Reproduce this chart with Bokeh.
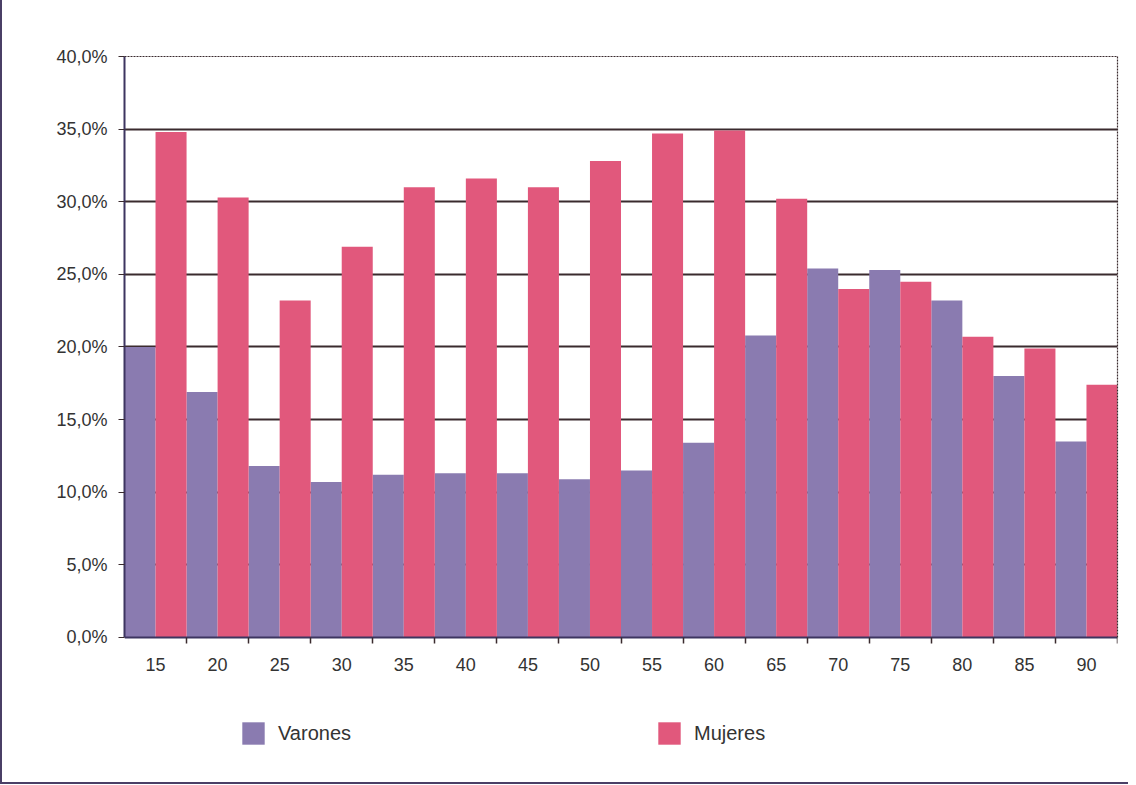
from bokeh.plotting import figure
from bokeh.models import ColumnDataSource, FixedTicker, Legend, LegendItem, Range1d, LinearAxis
from bokeh.embed import file_html
from bokeh.resources import INLINE

edades = ["15", "20", "25", "30", "35", "40", "45", "50", "55", "60", "65", "70", "75", "80", "85", "90"]
varones = [20.0, 16.9, 11.8, 10.7, 11.2, 11.3, 11.3, 10.9, 11.5, 13.4, 20.8, 25.4, 25.3, 23.2, 18.0, 13.5]
mujeres = [34.8, 30.3, 23.2, 26.9, 31.0, 31.6, 31.0, 32.8, 34.7, 34.9, 30.2, 24.0, 24.5, 20.7, 19.9, 17.4]
y_ticks = [0, 5, 10, 15, 20, 25, 30, 35, 40]

VAR_COL = "#8a7bb0"
MUJ_COL = "#e1587c"
LINE_COL = "#3a2b2e"
TEXT_COL = "#333333"
FONT = "Liberation Sans"

n = len(edades)
centers = list(range(n))
src = ColumnDataSource(dict(
    x_v=[c - 0.25 for c in centers],
    x_m=[c + 0.25 for c in centers],
    varones=varones,
    mujeres=mujeres,
))

# frame extends below 0 so the legend can sit under the axis
Y_MIN = -9.57
p = figure(width=1128, height=784, output_backend="svg", toolbar_location=None,
           x_range=Range1d(-0.5, n - 0.5), y_range=Range1d(Y_MIN, 40),
           min_border_left=122, min_border_right=13, min_border_top=56, min_border_bottom=8,
           background_fill_color="white", border_fill_color="white")
p.styles = {"border-left": "2px solid #4a3f66", "border-bottom": "2px solid #4a3f66"}
p.outline_line_color = None

r_v = p.vbar(x="x_v", top="varones", width=0.5, source=src, fill_color=VAR_COL, line_color=None)
r_m = p.vbar(x="x_m", top="mujeres", width=0.5, source=src, fill_color=MUJ_COL, line_color=None)

# x axis at y = 0
xa = p.xaxis[0]
xa.fixed_location = 0
xa.ticker = FixedTicker(ticks=centers, minor_ticks=[c + 0.5 for c in centers])
xa.major_label_overrides = {c: edades[c] for c in centers}
xa.major_tick_out = 0
xa.major_tick_in = 0
xa.minor_tick_out = 6
xa.minor_tick_in = 0
xa.minor_tick_line_color = LINE_COL
xa.minor_tick_line_width = 1.5
xa.axis_line_color = "#3d3560"
xa.axis_line_width = 2
xa.major_label_standoff = 15
xa.major_label_text_font = FONT
xa.major_label_text_font_size = "18px"
xa.major_label_text_color = TEXT_COL

ya = p.yaxis[0]
ya.bounds = (0, 40)
ya.ticker = FixedTicker(ticks=y_ticks)
ya.major_label_overrides = {t: f"{t:.1f}%".replace(".", ",") for t in y_ticks}
ya.major_tick_out = 6
ya.major_tick_in = 0
ya.minor_tick_line_color = None
ya.major_tick_line_color = LINE_COL
ya.axis_line_color = "#3d3560"
ya.axis_line_width = 2
ya.major_label_standoff = 11
ya.major_label_text_font = FONT
ya.major_label_text_font_size = "18px"
ya.major_label_text_color = TEXT_COL

# dotted top and right borders of the plot area
top_ax = LinearAxis(ticker=FixedTicker(ticks=[]), major_label_text_font_size="0px",
                    axis_line_color=LINE_COL, axis_line_dash="2 1", axis_line_width=1.2,
                    major_tick_line_color=None, minor_tick_line_color=None)
p.add_layout(top_ax, "above")
right_ax = LinearAxis(bounds=(0, 40), ticker=FixedTicker(ticks=[]), major_label_text_font_size="0px",
                      axis_line_color=LINE_COL, axis_line_dash="2 1", axis_line_width=1.2,
                      major_tick_line_color=None, minor_tick_line_color=None)
p.add_layout(right_ax, "right")

p.xgrid.grid_line_color = None
p.ygrid.ticker = FixedTicker(ticks=y_ticks[1:-1])
p.ygrid.grid_line_color = LINE_COL
p.ygrid.grid_line_width = 2
p.ygrid.level = "underlay"

legend = Legend(items=[LegendItem(label="Varones", renderers=[r_v]),
                       LegendItem(label="Mujeres", renderers=[r_m])],
                orientation="horizontal", location=(115, 29),
                glyph_width=28, glyph_height=28, label_standoff=11, spacing=304,
                padding=0, margin=0, border_line_color=None, background_fill_alpha=0,
                label_text_font=FONT, label_text_font_size="20px", label_text_color=TEXT_COL)
p.add_layout(legend, "center")

open("out.html", "w").write(file_html(p, INLINE))
